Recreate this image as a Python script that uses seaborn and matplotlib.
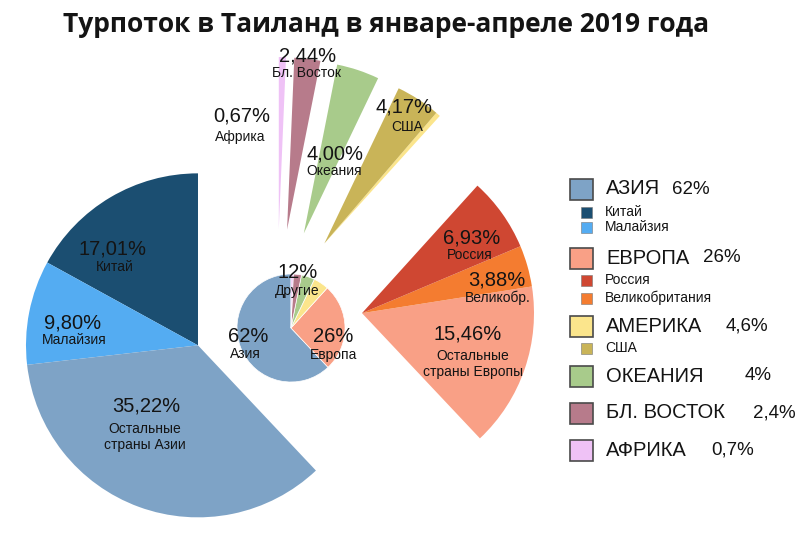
import numpy as np
import matplotlib.pyplot as plt
from matplotlib.patches import Rectangle
import seaborn as sns

sns.set_theme(style="white")
plt.rcParams['font.family'] = ['Liberation Sans', 'DejaVu Sans']

title = "Турпоток в Таиланд в январе-апреле 2019 года"

# регионы (внутренний круг), % от общего турпотока
regions = ["Азия", "Европа", "Америка", "Океания", "Бл. Восток", "Африка"]
region_share = [62.03, 26.27, 4.60, 4.00, 2.44, 0.67]
region_colors = ["#7EA3C6", "#F9A086", "#FBE58C", "#A8CB8B", "#B77B8B", "#EFC2F6"]

# детализация (вынесенные сектора), % от общего турпотока
detail_names = ["Китай", "Малайзия", "Остальные\nстраны Азии",
                "Остальные\nстраны Европы", "Великобр.", "Россия",
                "", "США", "Океания", "Бл. Восток", "Африка"]
detail_share = [17.01, 9.80, 35.22, 15.46, 3.88, 6.93, 0.43, 4.17, 4.00, 2.44, 0.67]
detail_group = [0, 0, 0, 1, 1, 1, 2, 2, 3, 4, 5]
detail_colors = ["#1B4E71", "#54ACF2", "#7EA3C6", "#F9A086", "#F47C30", "#CF4732",
                 "#FBE58C", "#C9B458", "#A8CB8B", "#B77B8B", "#EFC2F6"]

# легенда
legend_main = ["АЗИЯ", "ЕВРОПА", "АМЕРИКА", "ОКЕАНИЯ", "БЛ. ВОСТОК", "АФРИКА"]
legend_pct = ["62%", "26%", "4,6%", "4%", "2,4%", "0,7%"]
legend_sub = {0: [("Китай", 0), ("Малайзия", 1)],
              1: [("Россия", 5), ("Великобритания", 4)],
              2: [("США", 7)]}

W, H = 800, 534
fig = plt.figure(figsize=(8, 5.34), dpi=100)
ax = fig.add_axes([0, 0, 1, 1])

def txt(x, y, s, **kw):
    kw.setdefault('ha', 'center')
    kw.setdefault('va', 'center')
    kw.setdefault('color', '#141414')
    ax.text(x, H - y, s, **kw)

# большой "разобранный" круг
C = (277, H - 314)
R = 172
shift = 85
edges = np.concatenate([[0], np.cumsum(region_share)]) / sum(region_share) * 360
for g in range(len(regions)):
    mid = np.radians(90 + (edges[g] + edges[g + 1]) / 2)
    cx = C[0] + shift * np.cos(mid)
    cy = C[1] + shift * np.sin(mid)
    cols = [detail_colors[i] if detail_group[i] == g else 'none' for i in range(len(detail_share))]
    ax.pie(detail_share, colors=cols, startangle=90, counterclock=True,
           center=(cx, cy), radius=R, wedgeprops=dict(linewidth=0))

# маленький круг по регионам
ax.pie(region_share, colors=region_colors, startangle=90, counterclock=True,
       center=(291, H - 328), radius=54, wedgeprops=dict(linewidth=0.5, edgecolor='white'))

ax.set_xlim(0, W)
ax.set_ylim(0, H)
ax.axis('off')

def pct(v):
    return f"{v:.2f}%".replace('.', ',')

# подписи вынесенных секторов: (индекс, x, y процента, x, y подписи)
label_pos = [(0, 112, 249, 115, 267), (1, 73, 323, 74, 340), (2, 146, 406, 145, 437),
             (5, 472, 238, 470, 255), (4, 497, 280, 498, 298), (3, 468, 334, 473, 364),
             (7, 404, 107, 407, 127), (8, 335, 154, 334, 171), (9, 308, 56, 307, 73),
             (10, 242, 116, 240, 137)]
for i, px, py, lx, ly in label_pos:
    txt(px, py, pct(detail_share[i]), fontsize=14.5)
    txt(lx, ly, detail_names[i], fontsize=10, linespacing=1.1)

# подписи маленького круга
others = sum(region_share[2:])
txt(298, 272, f"{others:.0f}%", fontsize=14.5)
txt(297, 291, "Другие", fontsize=10)
txt(248, 337, f"{region_share[0]:.0f}%", fontsize=14.5)
txt(245, 354, regions[0], fontsize=10)
txt(333, 337, f"{region_share[1]:.0f}%", fontsize=14.5)
txt(334, 355, regions[1], fontsize=10)

# заголовок
txt(386, 25, title, fontsize=19, fontweight='bold', family=['Open Sans', 'DejaVu Sans'])

# легенда
main_y = [189, 258, 326, 376, 413, 450]
pct_x = [672, 703, 726, 745, 753, 711]
sub_y = {0: [212, 227], 1: [280, 298], 2: [348]}
for g, name in enumerate(legend_main):
    y = main_y[g]
    ax.add_patch(Rectangle((570, H - y - 10.5), 23, 21, facecolor=region_colors[g],
                           edgecolor='#4a4a4a', linewidth=1.2))
    txt(606, y, name, fontsize=14.5, ha='left')
    txt(pct_x[g], y, legend_pct[g], fontsize=13.5, ha='left')
    for (sname, idx), sy in zip(legend_sub.get(g, []), sub_y.get(g, [])):
        ax.add_patch(Rectangle((581, H - sy - 5.5), 11, 11, facecolor=detail_colors[idx],
                               edgecolor='#777777', linewidth=0.4))
        txt(605, sy, sname, fontsize=10, ha='left')

fig.savefig("out.png", dpi=100, facecolor='white')
